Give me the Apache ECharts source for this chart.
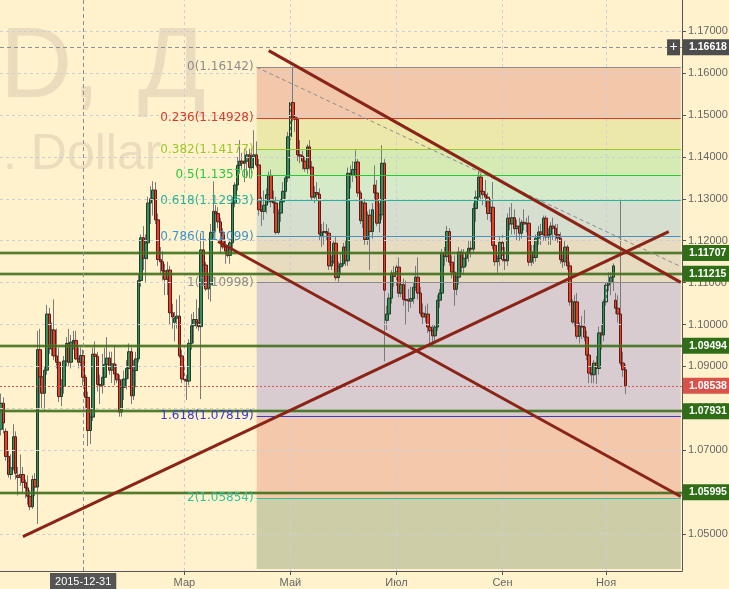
<!DOCTYPE html>
<html>
<head>
<meta charset="utf-8">
<script src="https://cdn.jsdelivr.net/npm/echarts@6/dist/echarts.min.js"></script>
<style>
  html, body { margin: 0; padding: 0; background: #fff2cc; }
  #chart { width: 729px; height: 589px; }
</style>
</head>
<body>
<div id="chart"></div>
<script>
// EURUSD daily, [open, high, low, close]
const candles = [
  // ноя 2015
  [1.0750,1.0835,1.0735,1.0812],[1.0812,1.0826,1.0740,1.0765],[1.0745,1.0752,1.0675,1.0685],[1.0685,1.0700,1.0635,1.0642],
  [1.0642,1.0690,1.0630,1.0658],[1.0658,1.0762,1.0652,1.0732],[1.0732,1.0745,1.0630,1.0645],[1.0640,1.0660,1.0592,1.0635],
  [1.0635,1.0690,1.0615,1.0642],[1.0642,1.0660,1.0600,1.0623],[1.0623,1.0630,1.0585,1.0610],[1.0610,1.0640,1.0570,1.0590],
  [1.0590,1.0605,1.0557,1.0565],
  // дек
  [1.0565,1.0640,1.0560,1.0630],[1.0630,1.0645,1.0590,1.0612],[1.0612,1.0985,1.0524,1.0940],[1.0940,1.0990,1.0800,1.0875],
  [1.0875,1.0890,1.0800,1.0836],[1.0836,1.0900,1.0795,1.0891],[1.0891,1.1047,1.0880,1.1025],[1.1025,1.1040,1.0930,1.0942],
  [1.0942,1.1005,1.0925,1.0987],[1.0987,1.1060,1.0915,1.0925],[1.0925,1.0990,1.0895,1.0910],[1.0910,1.0945,1.0815,1.0828],
  [1.0828,1.0870,1.0805,1.0852],[1.0852,1.0925,1.0835,1.0913],[1.0913,1.0970,1.0900,1.0955],[1.0955,1.0990,1.0900,1.0910],
  [1.0910,1.0975,1.0895,1.0958],[1.0958,1.0985,1.0940,1.0962],[1.0962,1.0985,1.0915,1.0918],[1.0918,1.0945,1.0895,1.0910],
  [1.0910,1.0945,1.0900,1.0926],[1.0926,1.0940,1.0855,1.0874],
  // янв 2016
  [1.0874,1.0880,1.0800,1.0826],[1.0826,1.0840,1.0710,1.0747],[1.0747,1.0800,1.0715,1.0779],[1.0779,1.0945,1.0770,1.0929],
  [1.0929,1.0960,1.0880,1.0924],[1.0924,1.0935,1.0840,1.0857],[1.0857,1.0880,1.0810,1.0855],[1.0855,1.0930,1.0835,1.0874],
  [1.0874,1.0945,1.0855,1.0905],[1.0905,1.0970,1.0890,1.0920],[1.0920,1.0935,1.0880,1.0891],[1.0891,1.0935,1.0860,1.0906],
  [1.0906,1.0950,1.0855,1.0882],[1.0882,1.0905,1.0860,1.0868],[1.0868,1.0880,1.0780,1.0791],[1.0791,1.0870,1.0780,1.0850],
  [1.0850,1.0890,1.0820,1.0870],[1.0870,1.0915,1.0845,1.0895],[1.0895,1.0955,1.0870,1.0935],[1.0935,1.0945,1.0810,1.0830],
  // фев
  [1.0830,1.0915,1.0820,1.0890],[1.0890,1.0935,1.0850,1.0918],[1.0918,1.1120,1.0910,1.1105],[1.1105,1.1215,1.1090,1.1207],
  [1.1207,1.1235,1.1130,1.1158],[1.1158,1.1215,1.1100,1.1195],[1.1195,1.1305,1.1155,1.1290],[1.1290,1.1330,1.1240,1.1300],
  [1.1300,1.1342,1.1260,1.1321],[1.1321,1.1340,1.1240,1.1250],[1.1250,1.1265,1.1140,1.1155],[1.1155,1.1185,1.1120,1.1150],
  [1.1150,1.1175,1.1105,1.1128],[1.1128,1.1145,1.1070,1.1108],[1.1108,1.1150,1.1070,1.1130],[1.1130,1.1140,1.1000,1.1028],
  [1.1028,1.1050,1.0990,1.1018],[1.1005,1.1030,1.0960,1.1015],[1.1015,1.1060,1.0990,1.1020],[1.1020,1.1070,1.0920,1.0925],
  [1.0925,1.0940,1.0860,1.0870],
  // мар
  [1.0870,1.0905,1.0855,1.0868],[1.0868,1.0880,1.0820,1.0865],[1.0865,1.0965,1.0855,1.0955],[1.0955,1.1025,1.0940,1.0997],
  [1.0997,1.1030,1.0955,1.1012],[1.1012,1.1060,1.0990,1.1005],[1.1005,1.1040,1.0985,1.0995],[1.0995,1.1218,1.0822,1.1178],
  [1.1178,1.1200,1.1100,1.1142],[1.1142,1.1150,1.1080,1.1085],[1.1085,1.1120,1.1060,1.1095],[1.1095,1.1240,1.1055,1.1220],
  [1.1220,1.1342,1.1205,1.1270],[1.1270,1.1285,1.1220,1.1265],[1.1265,1.1280,1.1230,1.1245],[1.1245,1.1255,1.1170,1.1220],
  [1.1220,1.1230,1.1180,1.1185],[1.1185,1.1200,1.1145,1.1175],[1.1175,1.1190,1.1160,1.1165],[1.1165,1.1205,1.1145,1.1195],
  [1.1195,1.1305,1.1180,1.1290],[1.1290,1.1340,1.1280,1.1333],[1.1333,1.1400,1.1320,1.1380],
  // апр
  [1.1380,1.1440,1.1360,1.1390],[1.1390,1.1410,1.1370,1.1385],[1.1385,1.1420,1.1340,1.1390],[1.1390,1.1415,1.1350,1.1405],
  [1.1405,1.1420,1.1350,1.1375],[1.1375,1.1420,1.1360,1.1400],[1.1400,1.1464,1.1370,1.1405],[1.1405,1.1437,1.1375,1.1381],
  [1.1381,1.1395,1.1260,1.1274],[1.1274,1.1305,1.1235,1.1270],[1.1270,1.1320,1.1250,1.1285],[1.1285,1.1325,1.1265,1.1310],
  [1.1310,1.1365,1.1290,1.1356],[1.1356,1.1370,1.1280,1.1293],[1.1293,1.1320,1.1265,1.1290],[1.1290,1.1305,1.1215,1.1220],
  [1.1220,1.1275,1.1215,1.1266],[1.1266,1.1300,1.1245,1.1293],[1.1293,1.1340,1.1270,1.1318],[1.1318,1.1355,1.1300,1.1350],
  [1.1350,1.1460,1.1340,1.1448],
  // май
  [1.1448,1.1535,1.1440,1.1530],[1.1530,1.1616,1.1485,1.1495],[1.1495,1.1510,1.1460,1.1490],[1.1490,1.1495,1.1390,1.1405],
  [1.1405,1.1440,1.1385,1.1402],[1.1402,1.1415,1.1370,1.1390],[1.1390,1.1400,1.1365,1.1372],[1.1372,1.1430,1.1360,1.1424],
  [1.1424,1.1440,1.1370,1.1376],[1.1376,1.1390,1.1295,1.1304],[1.1304,1.1330,1.1290,1.1315],[1.1315,1.1340,1.1295,1.1311],
  [1.1311,1.1325,1.1200,1.1216],[1.1210,1.1240,1.1185,1.1220],[1.1220,1.1245,1.1190,1.1222],[1.1222,1.1240,1.1200,1.1218],
  [1.1218,1.1230,1.1130,1.1140],[1.1140,1.1165,1.1130,1.1150],[1.1150,1.1200,1.1145,1.1194],[1.1194,1.1210,1.1105,1.1112],
  [1.1112,1.1150,1.1100,1.1138],[1.1138,1.1170,1.1120,1.1145],
  // июн
  [1.1145,1.1195,1.1140,1.1185],[1.1185,1.1200,1.1140,1.1152],[1.1152,1.1375,1.1140,1.1361],[1.1361,1.1380,1.1325,1.1356],
  [1.1356,1.1390,1.1340,1.1370],[1.1370,1.1416,1.1350,1.1388],[1.1388,1.1395,1.1305,1.1314],[1.1314,1.1320,1.1240,1.1248],
  [1.1248,1.1298,1.1230,1.1290],[1.1290,1.1300,1.1190,1.1203],[1.1203,1.1270,1.1190,1.1261],[1.1261,1.1275,1.1130,1.1222],
  [1.1222,1.1290,1.1205,1.1274],[1.1333,1.1380,1.1300,1.1314],[1.1314,1.1345,1.1235,1.1242],[1.1242,1.1290,1.1220,1.1262],
  [1.1262,1.1428,1.1250,1.1385],[1.1385,1.1395,1.0912,1.1082],[1.1010,1.1045,1.0987,1.1025],[1.1025,1.1075,1.1010,1.1063],
  [1.1063,1.1130,1.1050,1.1123],[1.1123,1.1140,1.1090,1.1115],
  // июл
  [1.1115,1.1145,1.1090,1.1137],[1.1137,1.1160,1.1065,1.1075],[1.1075,1.1120,1.1065,1.1095],[1.1095,1.1110,1.1045,1.1060],
  [1.1060,1.1105,1.1000,1.1058],[1.1058,1.1085,1.1030,1.1056],[1.1056,1.1090,1.1040,1.1062],[1.1062,1.1100,1.1050,1.1089],
  [1.1089,1.1140,1.1080,1.1113],[1.1113,1.1160,1.1060,1.1075],[1.1075,1.1090,1.1020,1.1027],[1.1027,1.1050,1.1000,1.1018],
  [1.1018,1.1045,1.1005,1.1025],[1.1025,1.1050,1.0980,1.0994],[1.0994,1.1010,1.0955,1.0985],[1.0985,1.1000,1.0950,1.0973],
  [1.0973,1.1000,1.0955,1.0994],[1.0994,1.1070,1.0985,1.1058],[1.1058,1.1085,1.1040,1.1075],[1.1075,1.1180,1.1065,1.1170],
  [1.1170,1.1185,1.1140,1.1162],
  // авг
  [1.1162,1.1235,1.1150,1.1222],[1.1222,1.1230,1.1140,1.1149],[1.1149,1.1165,1.1110,1.1125],[1.1125,1.1165,1.1045,1.1084],
  [1.1084,1.1125,1.1070,1.1113],[1.1113,1.1185,1.1095,1.1173],[1.1173,1.1180,1.1120,1.1137],[1.1137,1.1180,1.1120,1.1158],
  [1.1158,1.1175,1.1140,1.1170],[1.1170,1.1200,1.1150,1.1182],[1.1182,1.1200,1.1160,1.1180],[1.1180,1.1290,1.1170,1.1277],
  [1.1277,1.1320,1.1245,1.1304],[1.1304,1.1366,1.1295,1.1352],[1.1352,1.1360,1.1295,1.1318],[1.1318,1.1340,1.1285,1.1310],
  [1.1310,1.1345,1.1280,1.1304],[1.1304,1.1315,1.1250,1.1265],[1.1265,1.1300,1.1245,1.1280],[1.1280,1.1340,1.1180,1.1189],
  [1.1189,1.1200,1.1140,1.1150],[1.1150,1.1165,1.1122,1.1158],[1.1158,1.1210,1.1140,1.1196],
  // сен
  [1.1196,1.1220,1.1150,1.1155],[1.1155,1.1185,1.1130,1.1152],[1.1152,1.1265,1.1140,1.1254],[1.1254,1.1280,1.1225,1.1240],
  [1.1240,1.1290,1.1215,1.1255],[1.1255,1.1275,1.1215,1.1229],[1.1229,1.1250,1.1200,1.1235],[1.1235,1.1255,1.1200,1.1218],
  [1.1218,1.1250,1.1205,1.1244],[1.1244,1.1275,1.1225,1.1240],[1.1240,1.1255,1.1220,1.1242],[1.1242,1.1260,1.1140,1.1149],
  [1.1149,1.1190,1.1140,1.1173],[1.1173,1.1190,1.1145,1.1160],[1.1160,1.1215,1.1150,1.1206],[1.1206,1.1235,1.1190,1.1221],
  [1.1221,1.1240,1.1190,1.1215],[1.1215,1.1260,1.1200,1.1254],[1.1254,1.1260,1.1200,1.1209],[1.1209,1.1230,1.1190,1.1215],
  [1.1215,1.1245,1.1190,1.1235],[1.1235,1.1255,1.1200,1.1230],
  // окт
  [1.1230,1.1240,1.1200,1.1215],[1.1215,1.1240,1.1195,1.1206],[1.1206,1.1220,1.1145,1.1155],[1.1155,1.1175,1.1135,1.1150],
  [1.1150,1.1200,1.1140,1.1185],[1.1185,1.1190,1.1130,1.1140],[1.1140,1.1150,1.1045,1.1054],[1.1054,1.1060,1.1000,1.1006],
  [1.1006,1.1070,1.0995,1.1054],[1.1054,1.1075,1.0965,1.0972],[1.0972,1.1005,1.0955,1.0996],[1.0996,1.1020,1.0965,1.0994],
  [1.0994,1.1035,1.0960,1.0970],[1.0970,1.0985,1.0915,1.0927],[1.0927,1.0940,1.0860,1.0884],[1.0884,1.0900,1.0860,1.0880],
  [1.0880,1.0915,1.0860,1.0908],[1.0908,1.0925,1.0858,1.0895],[1.0895,1.0995,1.0880,1.0980],[1.0980,1.1000,1.0940,1.0975],
  [1.0975,1.1060,1.0960,1.1054],
  // ноя
  [1.1054,1.1100,1.1045,1.1094],[1.1094,1.1125,1.1080,1.1100],[1.1100,1.1125,1.1070,1.1113],[1.1113,1.1146,1.1080,1.1140],
  [1.1058,1.1075,1.1025,1.1039],[1.1039,1.1070,1.1005,1.1025],[1.1025,1.1300,1.0900,1.0908],[1.0908,1.0935,1.0875,1.0892],
  [1.0892,1.0905,1.0834,1.0854]
];

// trading days axis (incl. empty space on the right)
const firstDate = '2015-11-12';
const holidays = ['2015-12-25', '2016-01-01'];
const slotCount = 283;

const monthTickDates = ['2016-03-01', '2016-05-02', '2016-07-01', '2016-09-01', '2016-11-01'];
const monthTickNames = ['Мар', 'Май', 'Июл', 'Сен', 'Ноя'];
const cursorDate = '2015-12-31';
const cursorPrice = 1.16618;

const priceTicks = [1.05, 1.06, 1.07, 1.08, 1.09, 1.10, 1.11, 1.12, 1.13, 1.14, 1.15, 1.16, 1.17];
const priceMin = 1.041162, priceMax = 1.177472;

// fibonacci
const fibRatios = ['0', '0.236', '0.382', '0.5', '0.618', '0.786', '1', '1.618', '2'];
const fibPrices = [1.16142, 1.14928, 1.14177, 1.13570, 1.12963, 1.12099, 1.10998, 1.07819, 1.05854];
const fibFrom = 106, fibTo = 282, fibFloor = 1.04164;
const fibDiagonal = [[106, 1.16142], [282, 1.11383]];

// horizontal levels + last price
const levelPrices = [1.11707, 1.11215, 1.09494, 1.07931, 1.05995];
const lastPrice = 1.08538;

// trendlines, [index, price] pairs
const trendLines = [
  [[111, 1.16539], [282, 1.11006]],
  [[90, 1.11982], [282, 1.05895]],
  [[9, 1.04938], [277, 1.12216]]
];

const fibLineColors = ['#8c8c8c', '#d93a2b', '#9cc72c', '#27c93a', '#2bb39a', '#3d95d0', '#8c8c8c', '#3a3ad0', '#33c29b'];
const fibZoneColors = ['#f3c8aa', '#ebe8aa', '#d6eab4', '#d4eac8', '#d6decf', '#e7dbc0', '#d8ccd0', '#f4c8aa', '#cdcda8'];

var dates = [];
var d = new Date(firstDate + 'T00:00:00Z');
while (dates.length < slotCount) {
  var s = d.toISOString().slice(0, 10);
  var wd = d.getUTCDay();
  if (wd !== 0 && wd !== 6 && holidays.indexOf(s) < 0) dates.push(s);
  d.setUTCDate(d.getUTCDate() + 1);
}

var wickData = candles.map(function (c) { return [c[0], c[3], c[2], c[1]]; });
var bodyData = candles.map(function (c) { return [c[0], c[3], Math.min(c[0], c[3]), Math.max(c[0], c[3])]; });

var chart = echarts.init(document.getElementById('chart'), null, { renderer: 'canvas' });

var gridStyle = { color: '#cfcdd8', width: 1, type: [3, 3] };
var gridLines = priceTicks.map(function (p) { return { yAxis: p, lineStyle: gridStyle }; })
  .concat(monthTickDates.map(function (t) { return { xAxis: t, lineStyle: gridStyle }; }));

var zones = fibPrices.map(function (p, i) {
  var lower = i < fibPrices.length - 1 ? fibPrices[i + 1] : fibFloor;
  return [{ coord: [fibFrom, p], itemStyle: { color: fibZoneColors[i] } }, { coord: [fibTo, lower] }];
});

// price tag on the right scale
var tagLabel = function (text, bg) {
  return {
    show: true, position: 'end', distance: 1, formatter: text,
    backgroundColor: bg, color: '#fff', fontWeight: 'bold', fontSize: 10.5,
    fontFamily: 'Liberation Sans', padding: [3, 6, 2, 6]
  };
};

var lines = [];
// fib levels
fibPrices.forEach(function (p, i) {
  lines.push([{
    coord: [fibFrom, p],
    lineStyle: { color: fibLineColors[i], width: 1, type: 'solid' },
    label: {
      show: true, position: 'start', distance: 3, formatter: fibRatios[i] + '(' + p.toFixed(5) + ')',
      color: fibLineColors[i], fontSize: 12, fontFamily: 'DejaVu Sans'
    }
  }, { coord: [fibTo, p] }]);
});
// green levels
levelPrices.forEach(function (p) {
  lines.push({ yAxis: p, lineStyle: { color: 'rgba(95,140,50,0.5)', width: 3.5, type: 'solid' }, label: { show: false } });
  lines.push({ yAxis: p, lineStyle: { color: '#37661a', width: 1.5, type: 'solid' }, label: tagLabel(p.toFixed(5), '#2f6d17') });
});
// last price
lines.push({ yAxis: lastPrice, lineStyle: { color: '#d9534f', width: 1, type: [2, 2] }, label: tagLabel(lastPrice.toFixed(5), '#d9534a') });
// crosshair
lines.push({ yAxis: cursorPrice, lineStyle: { color: '#8f8f9c', width: 1, type: [4, 3] }, label: tagLabel(cursorPrice.toFixed(5), '#4d4d4d') });
lines.push({ xAxis: cursorDate, lineStyle: { color: '#8f8f9c', width: 1, type: [4, 3] },
  label: { show: true, position: 'start', distance: 2, formatter: cursorDate, backgroundColor: '#555', color: '#fff',
    fontSize: 11, fontFamily: 'Liberation Sans', padding: [3, 5, 2, 5] } });
// fib diagonal
lines.push([{ coord: fibDiagonal[0], lineStyle: { color: '#8c8c8c', width: 1, type: [4, 3] }, label: { show: false } },
  { coord: fibDiagonal[1] }]);
// trendlines
trendLines.forEach(function (t) {
  lines.push([{ coord: t[0], lineStyle: { color: '#8a2416', width: 3, type: 'solid' }, label: { show: false } },
    { coord: t[1] }]);
});

var wmStyle = function (text, size) {
  return { text: text, font: size + 'px "Liberation Sans"', fill: '#eadcbc' };
};

var option = {
  backgroundColor: '#fff2cc',
  animation: false,
  grid: { left: 0, right: 47, top: 0, bottom: 18, containLabel: false, outerBoundsMode: 'none' },
  // symbol watermark
  graphic: [
    { type: 'text', left: 0, top: 19, z: 0, silent: true, style: wmStyle('D,', 100) },
    { type: 'text', left: 138, top: 19, z: 0, silent: true, style: wmStyle('Д', 100) },
    { type: 'text', left: 3, top: 130, z: 0, silent: true, style: wmStyle('. Dollar', 50) }
  ],
  xAxis: {
    type: 'category', data: dates, boundaryGap: true,
    axisLine: { show: true, lineStyle: { color: '#555', width: 1 } },
    axisTick: { show: true, length: 4, alignWithLabel: true, lineStyle: { color: '#555' },
      interval: function (i, v) { return monthTickDates.indexOf(v) >= 0; } },
    axisLabel: {
      interval: function (i, v) { return monthTickDates.indexOf(v) >= 0; },
      formatter: function (v) { return monthTickNames[monthTickDates.indexOf(v)] || ''; },
      color: '#666', fontSize: 11, fontFamily: 'Liberation Sans', margin: 6
    },
    splitLine: { show: false }
  },
  yAxis: {
    type: 'value', position: 'right', min: priceMin, max: priceMax, scale: true,
    axisLine: { show: true, lineStyle: { color: '#555', width: 1 } },
    axisTick: { show: true, length: 4, customValues: priceTicks, lineStyle: { color: '#555' } },
    axisLabel: { customValues: priceTicks, formatter: function (v) { return v.toFixed(5); },
      color: '#666', fontSize: 11, fontFamily: 'Liberation Sans', margin: 6 },
    splitLine: { show: false }
  },
  series: [
    {
      name: 'zones', type: 'line', data: [], z: 1, silent: true, clip: false,
      markArea: { silent: true, data: zones },
      markLine: { silent: true, symbol: ['none', 'none'], label: { show: false }, data: gridLines }
    },
    {
      name: 'wicks', type: 'candlestick', data: wickData, z: 3, barWidth: 1, silent: true,
      itemStyle: { color: '#7a7a7a', color0: '#7a7a7a', borderColor: '#7a7a7a', borderColor0: '#7a7a7a', borderWidth: 1 }
    },
    {
      name: 'bodies', type: 'candlestick', data: bodyData, z: 4, barWidth: 3, silent: true,
      itemStyle: { color: '#3a8c5c', color0: '#e4412c', borderColor: '#1d3f28', borderColor0: '#5e1a14', borderWidth: 1 }
    },
    {
      name: 'lines', type: 'line', data: [], z: 5, silent: true, clip: false,
      markLine: { silent: true, symbol: ['none', 'none'], precision: 5, data: lines },
      markPoint: {
        silent: true,
        data: [{ coord: [279, cursorPrice], symbol: 'rect', symbolSize: [13, 16],
          itemStyle: { color: '#4d4d4d' },
          label: { show: true, position: 'inside', formatter: '+', color: '#fff', fontSize: 14, fontFamily: 'Liberation Sans' } }]
      }
    }
  ]
};

chart.setOption(option);
</script>
</body>
</html>
